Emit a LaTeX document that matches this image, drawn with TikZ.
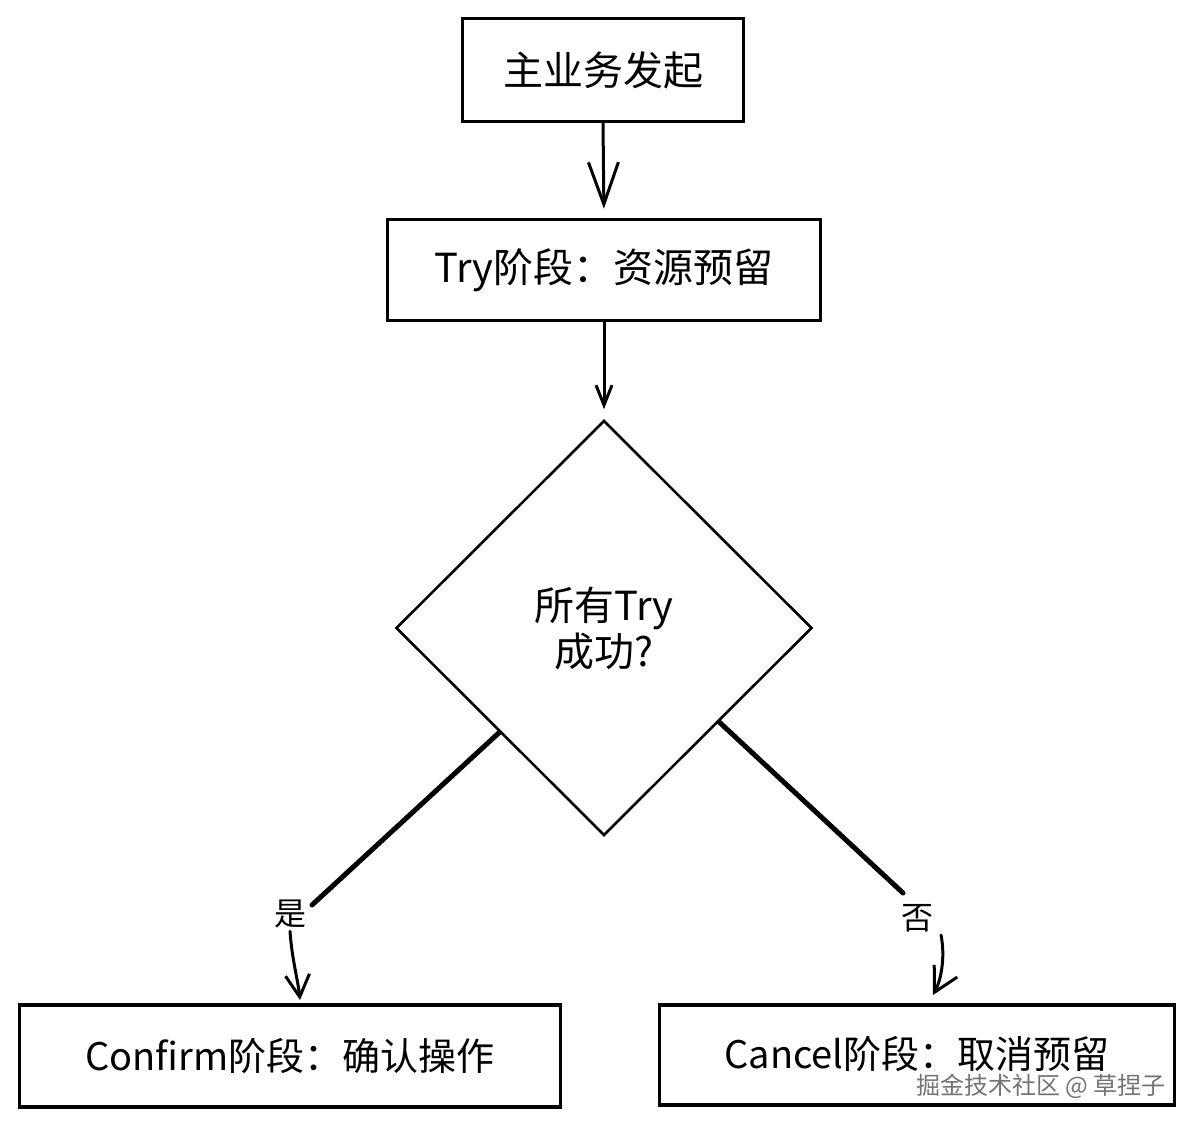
\documentclass[tikz,border=0pt]{standalone}
\usepackage{fontspec}
\setmainfont{Noto Sans CJK SC}
\usetikzlibrary{arrows.meta,calc,shapes.geometric}
\begin{document}
\begin{tikzpicture}[x=1pt,y=-1pt,
  box/.style={draw, line width=3.6pt, rectangle, inner sep=0pt, font=\fontsize{38}{44}\selectfont},
  bigbox/.style={box, font=\fontsize{40}{46}\selectfont},
  decision/.style={draw, line width=2.6pt, diamond, inner sep=0pt, align=center, font=\fontsize{40}{46}\selectfont},
  conn/.style={line width=3pt, line cap=round, line join=round},
  branch/.style={line width=5pt, line cap=round, line join=round},
  lbl/.style={fill=white, inner sep=3pt, font=\fontsize{32}{38}\selectfont},
  wmark/.style={font=\fontsize{24}{28}\selectfont, text=black!55, inner sep=0pt}
]
\useasboundingbox (0,0) rectangle (1194,1126);
\fill[white] (0,0) rectangle (1194,1126);

\node[bigbox, minimum width=281pt, minimum height=103pt] (b1) at (603,70) {主业务发起};
\node[bigbox, minimum width=433pt, minimum height=101pt] (b2) at (604,270) {Try阶段：资源预留};
\node[decision, minimum width=416pt, minimum height=415pt] (dia) at (604,628) {所有Try\\成功?};
\node[box, minimum width=541pt, minimum height=102pt] (b3) at (290,1056) {Confirm阶段：确认操作};
\node[box, minimum width=515pt, minimum height=100pt, text depth=6pt] (b4) at (917,1055) {Cancel阶段：取消预留};

\draw[conn, -{Straight Barb[length=42pt,width=30pt,line width=3pt]}, shorten >=9pt] (b1.south) -- (b2.north);
\draw[conn, -{Straight Barb[length=20pt,width=16pt,line width=3pt]}, shorten >=10pt] (b2.south) -- (dia.north);

\coordinate (y1) at ($(dia.west)!0.5!(dia.south)$);
\coordinate (y2) at (312,905);
\node[lbl] (yes) at (290,914) {是};
\coordinate (y3) at (300,1000);
\draw[branch] (y1) -- (y2);
\draw[conn, -{Straight Barb[length=22pt,width=24pt,line width=3pt]}] (yes.south) .. controls (292,960) and (298,980) .. (y3);

\coordinate (n1) at ($(dia.east)!0.45!(dia.south)$);
\coordinate (n2) at (903,893);
\node[lbl] (no) at (917,918) {否};
\coordinate (n3) at (933,995);
\draw[branch] (n1) -- (n2);
\draw[conn, -{Straight Barb[length=24pt,width=26pt,line width=3pt]}] (941,935) .. controls (945,955) and (942,978) .. (n3);

\node[wmark, anchor=east] (wm) at (1166,1086) {掘金技术社区 @ 草捏子};
\end{tikzpicture}
\end{document}
